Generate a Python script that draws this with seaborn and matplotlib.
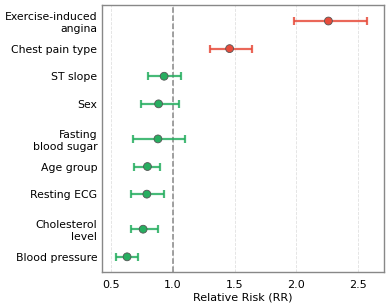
"""
Forest plot of relative risk by factor
"""

import numpy as np
import pandas as pd
import seaborn as sns
import matplotlib
matplotlib.use("Agg")
import matplotlib.pyplot as plt

factors = ["Exercise-induced\nangina", "Chest pain type", "ST slope", "Sex",
           "Fasting\nblood sugar", "Age group", "Resting ECG",
           "Cholesterol\nlevel", "Blood pressure"]
rr = [2.26, 1.46, 0.93, 0.885, 0.88, 0.795, 0.79, 0.76, 0.63]
ci_low = [1.98, 1.30, 0.80, 0.74, 0.68, 0.69, 0.66, 0.66, 0.54]
ci_high = [2.575, 1.645, 1.07, 1.05, 1.095, 0.90, 0.93, 0.88, 0.72]

RED = "#e74c3c"
GREEN = "#27ae60"


def main():
    df = pd.DataFrame({"factor": factors, "rr": rr, "lo": ci_low, "hi": ci_high})
    # extra room above two-line labels
    pos = []
    y = 0.0
    for i, f in enumerate(factors):
        if i > 0:
            y += 1.0 + (0.27 if "\n" in f else 0.0)
        pos.append(y)
    df["y"] = pos
    df["kind"] = np.where(df["rr"] > 1, "risk", "protective")

    sns.set_style("white")
    plt.rcParams["font.family"] = ["DejaVu Sans"]
    plt.rcParams["text.color"] = "black"
    plt.rcParams["xtick.color"] = "black"
    plt.rcParams["ytick.color"] = "black"
    plt.rcParams["axes.labelcolor"] = "black"
    fig, ax = plt.subplots(figsize=(3.89, 3.07), dpi=100)
    fig.subplots_adjust(left=102/389, right=384/389, top=1-5/307, bottom=1-272/307)

    for _, r in df.iterrows():
        c = RED if r["kind"] == "risk" else GREEN
        ax.errorbar(r["rr"], r["y"], xerr=[[r["rr"] - r["lo"]], [r["hi"] - r["rr"]]],
                    fmt="none", ecolor=c, elinewidth=1.6, capsize=3, capthick=1.6,
                    alpha=0.85, zorder=2)
    sns.scatterplot(data=df, x="rr", y="y", hue="kind",
                    palette={"risk": RED, "protective": GREEN},
                    s=32, edgecolor="#555555", linewidth=0.6, legend=False,
                    zorder=3, ax=ax)

    ax.axvline(1.0, color="#888888", linestyle="--", linewidth=1.1, zorder=1)
    ax.set_xticks([0.5, 1.0, 1.5, 2.0, 2.5])
    ax.grid(axis="x", color="#e0e0e0", linestyle="--", linewidth=0.6)
    ax.set_axisbelow(True)
    ax.set_xlim(0.427, 2.71)
    ax.set_ylim(pos[-1] + 0.55, -0.58)
    ax.set_yticks(pos)
    ax.set_yticklabels(factors, fontsize=7.8)
    ax.tick_params(axis="x", labelsize=8, length=2, color="#555555")
    ax.tick_params(axis="y", length=2, pad=1.5, color="#555555")
    ax.set_xlabel("Relative Risk (RR)", fontsize=8, labelpad=2)
    ax.set_ylabel("")
    for s in ax.spines.values():
        s.set_color("#888888")
        s.set_linewidth(1.0)

    fig.savefig("out.png", dpi=100)


if __name__ == "__main__":
    main()
